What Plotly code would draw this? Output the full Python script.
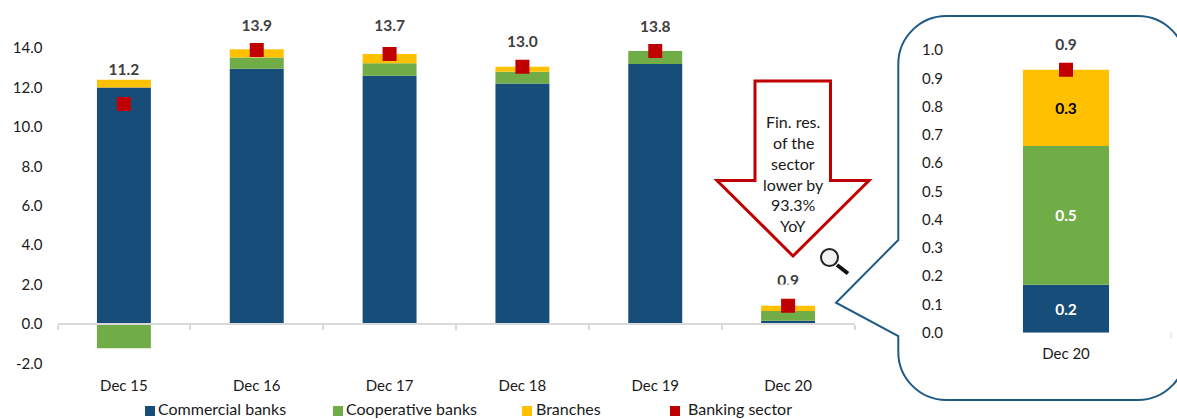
import plotly.graph_objects as go

# ---- data ----
categories = ["Dec 15", "Dec 16", "Dec 17", "Dec 18", "Dec 19", "Dec 20"]
commercial = [12.0, 12.95, 12.6, 12.2, 13.2, 0.17]
cooperative = [-1.23, 0.57, 0.63, 0.6, 0.65, 0.49]
branches = [0.4, 0.42, 0.47, 0.25, 0.0, 0.27]
sector = [11.17, 13.9, 13.7, 13.05, 13.85, 0.93]
sector_labels = ["11.2", "13.9", "13.7", "13.0", "13.8", "0.9"]
label_heights = [12.85, 15.05, 15.05, 14.25, 15.0, 2.1]
y_ticks = [-2, 0, 2, 4, 6, 8, 10, 12, 14]
y_tick_labels = ["-2.0", "0.0", "2.0", "4.0", "6.0", "8.0", "10.0", "12.0", "14.0"]

inset_category = ["Dec 20"]
inset_commercial = [0.17]
inset_cooperative = [0.49]
inset_branches = [0.27]
inset_sector = [0.93]
inset_sector_label = ["0.9"]
inset_label_height = [1.015]
inset_ticks = [0.0, 0.1, 0.2, 0.3, 0.4, 0.5, 0.6, 0.7, 0.8, 0.9, 1.0]

arrow_lines = ["Fin. res.", "of the", "sector", "lower by", "93.3%", "YoY"]
legend_names = ["Commercial banks", "Cooperative banks", "Branches", "Banking sector"]

# ---- style ----
W, H = 1177, 419
BLUE, GREEN, YELLOW, RED = "#174E79", "#70AD47", "#FFC000", "#C00000"
OUTLINE = "#1F5A85"
FONT = "Lato"
FS = 15
TXT = "#1a1a1a"
GREY = "#404040"


def fx(p):
    return p / W


def fy(p):
    return 1 - p / H


def path(points):
    return "M" + " L".join(f"{fx(x):.5f},{fy(y):.5f}" for x, y in points) + " Z"


fig = go.Figure()

for name, vals, col in zip(legend_names[:3], [commercial, cooperative, branches], [BLUE, GREEN, YELLOW]):
    fig.add_bar(x=categories, y=vals, name=name, marker=dict(color=col, line_width=0),
                xaxis="x", yaxis="y", showlegend=False)
fig.add_scatter(x=categories, y=sector, mode="markers", name=legend_names[3], showlegend=False,
                marker=dict(symbol="square", size=14, color=RED), xaxis="x", yaxis="y")
fig.add_scatter(x=categories, y=label_heights, mode="text", text=sector_labels, showlegend=False,
                textposition="middle center", cliponaxis=False,
                textfont=dict(family=FONT, size=15.5, color=GREY, weight="bold"),
                hoverinfo="skip", xaxis="x", yaxis="y")

# inset
for name, vals, col, tcol in zip(legend_names[:3], [inset_commercial, inset_cooperative, inset_branches],
                                 [BLUE, GREEN, YELLOW], ["white", "white", "black"]):
    fig.add_bar(x=inset_category, y=vals, name=name, marker=dict(color=col, line_width=0),
                texttemplate="%{y:.1f}", textposition="inside", insidetextanchor="middle", textangle=0,
                textfont=dict(family=FONT, size=15.5, color=tcol, weight="bold"),
                xaxis="x2", yaxis="y2", showlegend=False)
fig.add_scatter(x=inset_category, y=inset_sector, mode="markers", name=legend_names[3], showlegend=False,
                marker=dict(symbol="square", size=14, color=RED), xaxis="x2", yaxis="y2")
fig.add_scatter(x=inset_category, y=inset_label_height, mode="text", text=inset_sector_label, showlegend=False,
                textposition="middle center", cliponaxis=False,
                textfont=dict(family=FONT, size=15.5, color=GREY, weight="bold"),
                hoverinfo="skip", xaxis="x2", yaxis="y2")

shapes = []
annotations = []

# callout
L, T, R, B, r = 898.3, 16, 1186, 400, 48
k = 0.45 * r
callout = (
    f"M{fx(L)},{fy(T + r)} C{fx(L)},{fy(T + k)} {fx(L + k)},{fy(T)} {fx(L + r)},{fy(T)} "
    f"L{fx(R - r)},{fy(T)} C{fx(R - k)},{fy(T)} {fx(R)},{fy(T + k)} {fx(R)},{fy(T + r)} "
    f"L{fx(R)},{fy(B - r)} C{fx(R)},{fy(B - k)} {fx(R - k)},{fy(B)} {fx(R - r)},{fy(B)} "
    f"L{fx(L + r)},{fy(B)} C{fx(L + k)},{fy(B)} {fx(L)},{fy(B - k)} {fx(L)},{fy(B - r)} "
    f"L{fx(L)},{fy(336)} L{fx(836)},{fy(302.7)} L{fx(L)},{fy(240)} Z"
)
shapes.append(dict(type="path", path=callout, xref="paper", yref="paper", layer="below",
                   line=dict(color=OUTLINE, width=2), fillcolor="white"))
# small tick at the right of the inset
shapes.append(dict(type="line", xref="paper", yref="paper", x0=fx(1171), x1=fx(1171), y0=fy(332), y1=fy(338),
                   line=dict(color="#D9D9D9", width=1)))

# red arrow
shapes.append(dict(type="path", xref="paper", yref="paper", layer="above",
                   path=path([(755, 81), (830.5, 81), (830.5, 180.5), (869, 180.5), (793, 256),
                              (717, 180.5), (755, 180.5)]),
                   line=dict(color=RED, width=3), fillcolor="white"))
for i, t in enumerate(arrow_lines):
    annotations.append(dict(text=t, xref="paper", yref="paper", x=fx(793), y=fy(121.7 + i * 20.8),
                            showarrow=False, xanchor="center", yanchor="middle",
                            font=dict(family=FONT, size=16, color=TXT)))

# cut-off bottom of the last label
shapes.append(dict(type="rect", xref="paper", yref="paper", layer="above", x0=fx(770), x1=fx(805),
                   y0=fy(293), y1=fy(284.5), fillcolor="white", line_width=0))

# magnifier
shapes.append(dict(type="circle", xref="paper", yref="paper", layer="above", x0=fx(821), x1=fx(838),
                   y0=fy(266), y1=fy(249), line=dict(color="#222222", width=2), fillcolor="#F2F2F2"))
shapes.append(dict(type="line", xref="paper", yref="paper", layer="above", x0=fx(837), y0=fy(265),
                   x1=fx(848), y1=fy(273.5), line=dict(color="#111111", width=4)))

# legend
swatch_x = [145, 333, 522, 670]
text_x = [156, 344, 534, 686]
swatch_cols = [BLUE, GREEN, YELLOW, RED]
for name, sx, tx, c in zip(legend_names, swatch_x, text_x, swatch_cols):
    shapes.append(dict(type="rect", xref="paper", yref="paper", x0=fx(sx), x1=fx(sx + 10),
                       y0=fy(416), y1=fy(406), fillcolor=c, line_width=0))
    annotations.append(dict(text=name, xref="paper", yref="paper", x=fx(tx), y=fy(408.5), showarrow=False,
                            xanchor="left", yanchor="middle", font=dict(family=FONT, size=16, color=TXT)))

fig.update_layout(
    width=W, height=H, margin=dict(l=0, r=0, t=0, b=0), autosize=False,
    paper_bgcolor="white", plot_bgcolor="rgba(0,0,0,0)",
    barmode="relative", bargap=0.594, showlegend=False,
    font=dict(family=FONT, size=FS, color=TXT),
    shapes=shapes, annotations=annotations,
    xaxis=dict(domain=[fx(57.5), fx(854.5)], anchor="free", position=fy(324), type="category", automargin=False,
               tickson="boundaries", ticks="outside", ticklen=5, tickcolor="#D9D9D9", tickwidth=1.5,
               showline=True, linecolor="#D9D9D9", linewidth=1.5, showgrid=False, zeroline=False,
               ticklabelstandoff=48, tickfont=dict(family=FONT, size=FS, color=TXT)),
    yaxis=dict(domain=[fy(363.4), fy(16)], range=[-2, 15.63], anchor="x", tickvals=y_ticks, automargin=False,
               ticktext=y_tick_labels, showgrid=False, zeroline=False, showline=False, ticks="",
               ticklabelstandoff=14, tickfont=dict(family=FONT, size=FS, color=TXT)),
    xaxis2=dict(domain=[fx(960), fx(1172)], anchor="y2", type="category", showgrid=False, zeroline=False,
                automargin=False, showline=False, ticks="", ticklabelstandoff=10,
                tickfont=dict(family=FONT, size=FS, color=TXT)),
    yaxis2=dict(domain=[fy(332.7), fy(21.7)], range=[0, 1.1], anchor="x2", tickvals=inset_ticks, tickformat=".1f",
                automargin=False, showgrid=False, zeroline=False, showline=False, ticks="", ticklabelstandoff=16,
                tickfont=dict(family=FONT, size=FS, color=TXT)),
)

fig.write_html("out.html", post_script="document.body.style.margin='0';", config={"displayModeBar": False})
